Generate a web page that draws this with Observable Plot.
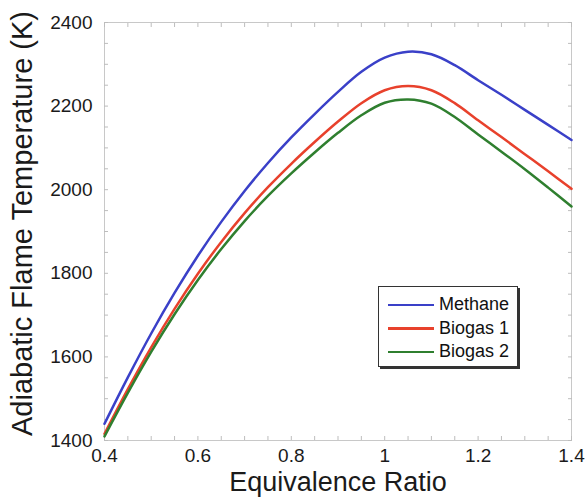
<!DOCTYPE html>
<html>
<head>
<meta charset="utf-8">
<script src="https://cdn.jsdelivr.net/npm/d3@7"></script>
<script src="https://cdn.jsdelivr.net/npm/@observablehq/plot@0.6"></script>
<style>
  html, body { margin: 0; padding: 0; background: #fff; }
  #wrap { position: relative; width: 586px; height: 501px; font-family: "Liberation Sans", Arial, sans-serif; }
  #legend { position: absolute; left: 378px; top: 286px; width: 140px; height: 81px; border: 1.5px solid #333;
            box-shadow: 2px 2px 0 #333; background: #fff; box-sizing: border-box; padding-top: 6px; }
  .item { display: flex; align-items: center; height: 23.5px; font-size: 18px; color: #111; }
  .sw { width: 46px; height: 2.5px; margin-left: 9px; margin-right: 5px; }
</style>
</head>
<body>
<div id="wrap"><div id="legend"></div></div>
<script>
const phi = [0.40,0.45,0.50,0.55,0.60,0.65,0.70,0.75,0.80,0.85,0.90,0.95,1.00,1.05,1.10,1.15,1.20,1.25,1.30,1.35,1.40];
const methane = [1440,1551,1656,1753,1842,1923,1997,2064,2125,2181,2234,2282,2316,2330,2324,2298,2262,2227,2191,2155,2119];
const biogas1 = [1416,1523,1623,1715,1799,1875,1944,2006,2062,2114,2163,2207,2238,2248,2238,2207,2166,2126,2085,2044,2002];
const biogas2 = [1410,1514,1612,1702,1784,1858,1925,1985,2039,2089,2136,2178,2208,2216,2206,2174,2132,2091,2049,2005,1960];
const seriesNames = ["Methane","Biogas 1","Biogas 2"];
const seriesColors = ["#3a40c8","#e8412c","#2f7f2f"];
const xTicks = [0.4,0.6,0.8,1,1.2,1.4];
const yTicks = [1400,1600,1800,2000,2200,2400];
const xMinor = [0.4,0.45,0.5,0.55,0.6,0.65,0.7,0.75,0.8,0.85,0.9,0.95,1,1.05,1.1,1.15,1.2,1.25,1.3,1.35,1.4];
const yMinor = [1400,1450,1500,1550,1600,1650,1700,1750,1800,1850,1900,1950,2000,2050,2100,2150,2200,2250,2300,2350,2400];
const xTitle = "Equivalence Ratio";
const yTitle = "Adiabatic Flame Temperature (K)";

const allSeries = [methane, biogas1, biogas2];
const data = [];
allSeries.forEach((vals, i) => vals.forEach((v, j) => data.push({phi: phi[j], T: v, series: seriesNames[i]})));

const tickStroke = "#bdbdbd";
const chart = Plot.plot({
  width: 586, height: 501,
  marginLeft: 104, marginRight: 15, marginTop: 22, marginBottom: 61,
  style: {fontFamily: "'Liberation Sans', Arial, sans-serif", color: "#1a1a1a", background: "#fff", overflow: "visible"},
  x: {domain: [0.4, 1.4]},
  y: {domain: [1400, 2400]},
  color: {domain: seriesNames, range: seriesColors},
  marks: [
    Plot.frame({stroke: "#c8c8c8"}),
    Plot.axisX({ticks: xMinor, tickSize: -4, text: null, stroke: tickStroke, label: null}),
    Plot.axisX({anchor: "top", ticks: xMinor, tickSize: -4, text: null, stroke: tickStroke, label: null}),
    Plot.axisY({ticks: yMinor, tickSize: -4, text: null, stroke: tickStroke, label: null}),
    Plot.axisY({anchor: "right", ticks: yMinor, tickSize: -4, text: null, stroke: tickStroke, label: null}),
    Plot.axisX({ticks: xTicks, tickSize: 0, tickPadding: 8, tickFormat: d => String(d), fontSize: 19, label: null, fill: "#1a1a1a"}),
    Plot.axisY({ticks: yTicks, tickSize: 0, tickPadding: 12, tickFormat: d => String(d), fontSize: 19, label: null, fill: "#1a1a1a"}),
    Plot.text([xTitle], {frameAnchor: "bottom", dy: 50, fontSize: 27, fill: "#1a1a1a", textAnchor: "middle"}),
    Plot.text([yTitle], {frameAnchor: "left", dx: -82, dy: -8, rotate: -90, fontSize: 29, fill: "#1a1a1a", textAnchor: "middle"}),
    Plot.line(data, {x: "phi", y: "T", z: "series", stroke: "series", strokeWidth: 2.5, curve: "catmull-rom"})
  ]
});
document.getElementById("wrap").prepend(chart);

const legend = document.getElementById("legend");
seriesNames.forEach((name, i) => {
  const row = document.createElement("div");
  row.className = "item";
  const sw = document.createElement("div");
  sw.className = "sw";
  sw.style.background = seriesColors[i];
  const label = document.createElement("span");
  label.textContent = name;
  row.appendChild(sw);
  row.appendChild(label);
  legend.appendChild(row);
});
</script>
</body>
</html>
